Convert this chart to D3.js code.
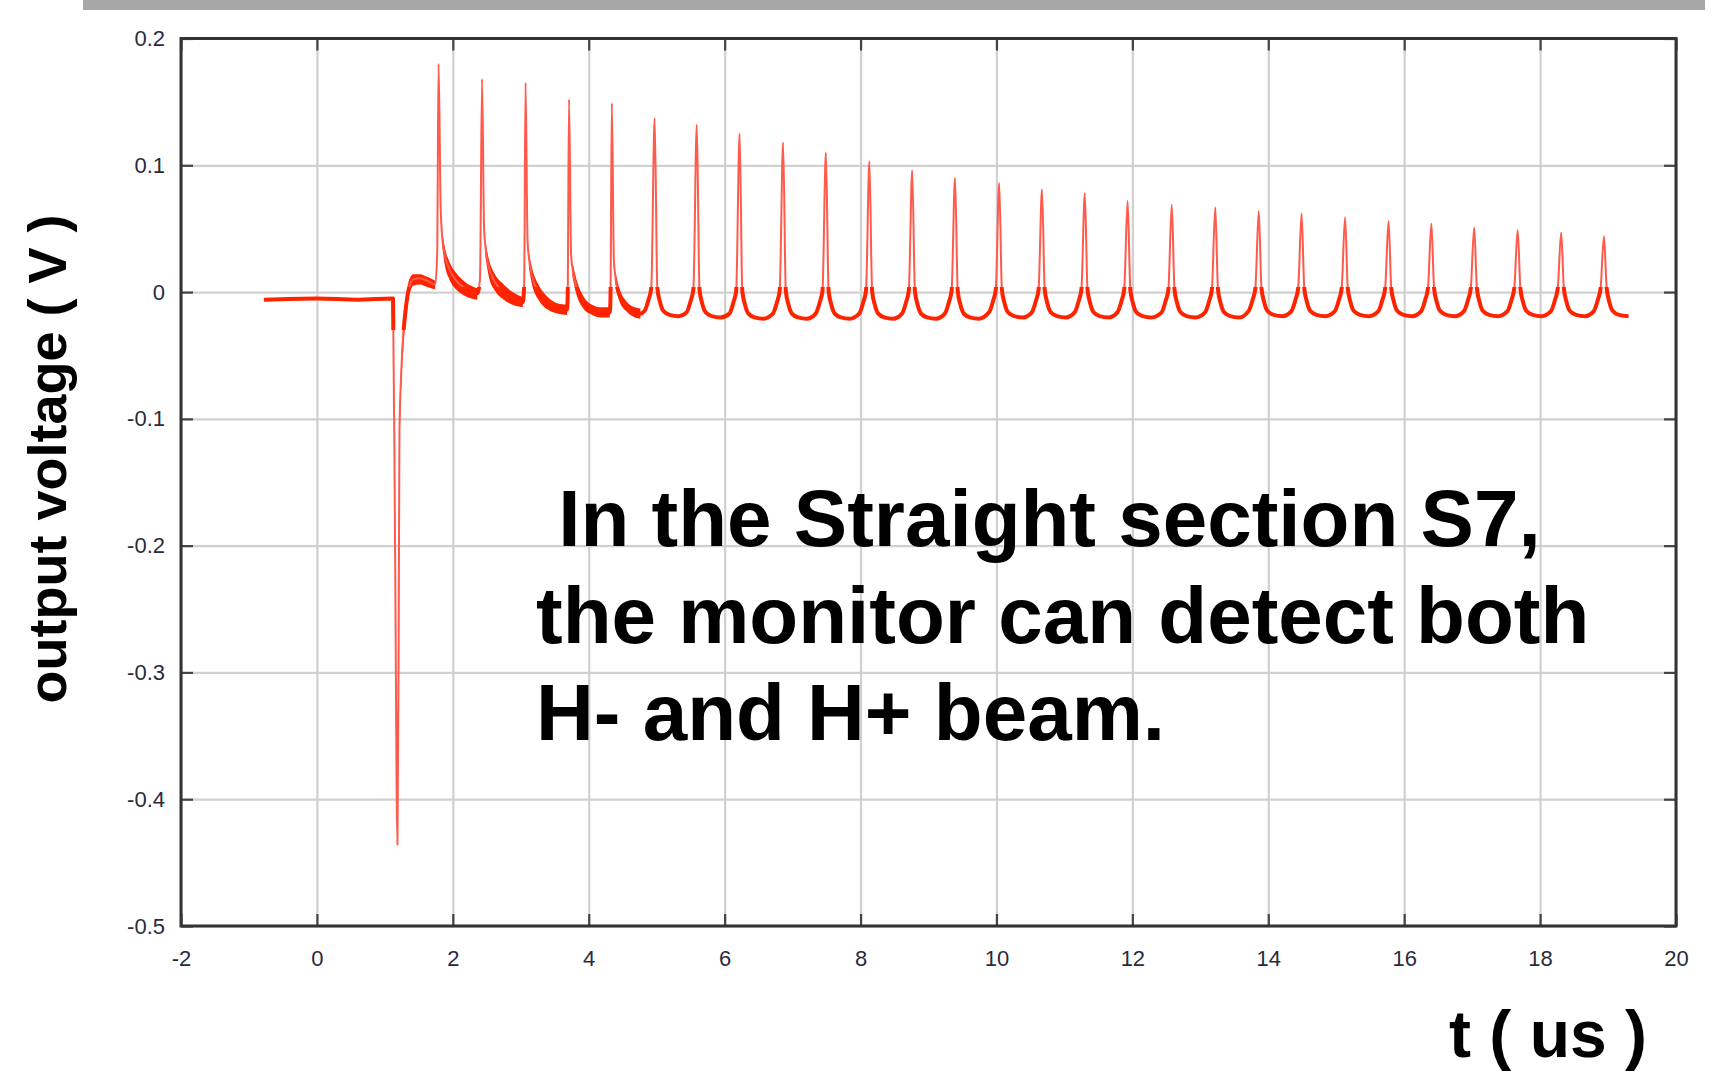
<!DOCTYPE html>
<html lang="en">
<head>
  <meta charset="UTF-8">
  <title>output voltage vs t</title>
  <style>
    body { margin: 0; background: #fff; }
    svg { display: block; }
  </style>
</head>
<body>
  <script src="https://d3js.org/d3.v7.min.js"></script>
  <script>
    'use strict';

    // axis ticks
    const xTicks = [-2, 0, 2, 4, 6, 8, 10, 12, 14, 16, 18, 20];
    const yTicks = [0.2, 0.1, 0, -0.1, -0.2, -0.3, -0.4, -0.5];

    // scope trace, [t (us), V]
    const trace = [
      [-0.78, -0.006], [0.0, -0.005], [0.6, -0.006], [1.12, -0.005],
      [1.15, -0.20], [1.185, -0.436], [1.205, -0.25], [1.215, -0.11], [1.24, -0.065], [1.27, -0.035],
      [1.31, -0.012], [1.36, 0.004], [1.42, 0.010], [1.52, 0.011], [1.62, 0.009], [1.74, 0.006],
      [1.77, 0.03], [1.79, 0.180], [1.82, 0.07], [1.84, 0.046], [1.88, 0.030], [1.95, 0.018], [2.05, 0.009], [2.18, 0.003], [2.36, -0.001],
      [2.40, 0.01], [2.43, 0.168], [2.46, 0.05], [2.48, 0.036], [2.53, 0.020], [2.62, 0.008], [2.75, 0.000], [2.88, -0.005], [3.03, -0.008],
      [3.05, 0.005], [3.07, 0.165], [3.10, 0.04], [3.12, 0.027], [3.17, 0.012], [3.26, 0.000], [3.40, -0.009], [3.55, -0.013], [3.68, -0.014],
      [3.69, -0.005], [3.71, 0.152], [3.74, 0.03], [3.76, 0.019], [3.82, 0.004], [3.92, -0.008], [4.05, -0.014], [4.18, -0.016], [4.31, -0.016],
      [4.32, -0.005], [4.34, 0.149], [4.37, 0.025], [4.39, 0.013], [4.45, -0.002], [4.55, -0.011], [4.68, -0.016], [4.76, -0.017],
      [4.82, -0.015], [4.88, -0.006], [4.92, 0.003], [4.97, 0.137], [5.01, 0.003], [5.05, -0.008], [5.10, -0.015], [5.19, -0.018], [5.32, -0.019],
      [5.44, -0.016], [5.50, -0.007], [5.54, 0.002], [5.59, 0.132], [5.63, 0.002], [5.67, -0.009], [5.72, -0.016], [5.81, -0.019], [5.94, -0.020],
      [6.07, -0.017], [6.13, -0.008], [6.17, 0.001], [6.22, 0.125], [6.26, 0.001], [6.30, -0.010], [6.35, -0.017], [6.44, -0.020], [6.57, -0.021],
      [6.71, -0.017], [6.77, -0.008], [6.81, 0.001], [6.86, 0.118], [6.90, 0.001], [6.94, -0.010], [6.99, -0.017], [7.08, -0.020], [7.21, -0.021],
      [7.34, -0.017], [7.40, -0.008], [7.44, 0.001], [7.49, 0.110], [7.53, 0.001], [7.57, -0.010], [7.62, -0.017], [7.71, -0.020], [7.84, -0.021],
      [7.98, -0.017], [8.04, -0.008], [8.08, 0.001], [8.13, 0.103], [8.17, 0.001], [8.21, -0.010], [8.26, -0.017], [8.35, -0.020], [8.48, -0.021],
      [8.61, -0.017], [8.67, -0.008], [8.71, 0.001], [8.76, 0.096], [8.80, 0.001], [8.84, -0.010], [8.89, -0.017], [8.98, -0.020], [9.11, -0.021],
      [9.24, -0.017], [9.30, -0.008], [9.34, 0.001], [9.39, 0.090], [9.43, 0.001], [9.47, -0.010], [9.52, -0.017], [9.61, -0.020], [9.74, -0.021],
      [9.89, -0.016], [9.95, -0.007], [9.99, 0.002], [10.04, 0.086], [10.08, 0.002], [10.12, -0.009], [10.17, -0.016], [10.26, -0.019], [10.39, -0.020],
      [10.52, -0.016], [10.58, -0.007], [10.62, 0.002], [10.67, 0.081], [10.71, 0.002], [10.75, -0.009], [10.80, -0.016], [10.89, -0.019], [11.02, -0.020],
      [11.15, -0.016], [11.21, -0.007], [11.25, 0.002], [11.30, 0.078], [11.34, 0.002], [11.38, -0.009], [11.43, -0.016], [11.52, -0.019], [11.65, -0.020],
      [11.78, -0.016], [11.84, -0.007], [11.88, 0.002], [11.93, 0.072], [11.97, 0.002], [12.01, -0.009], [12.06, -0.016], [12.15, -0.019], [12.28, -0.020],
      [12.43, -0.016], [12.49, -0.007], [12.53, 0.002], [12.58, 0.069], [12.62, 0.002], [12.66, -0.009], [12.71, -0.016], [12.80, -0.019], [12.93, -0.020],
      [13.07, -0.016], [13.13, -0.007], [13.17, 0.002], [13.22, 0.067], [13.26, 0.002], [13.30, -0.009], [13.35, -0.016], [13.44, -0.019], [13.57, -0.020],
      [13.71, -0.015], [13.77, -0.006], [13.81, 0.003], [13.86, 0.064], [13.90, 0.003], [13.94, -0.008], [13.99, -0.015], [14.08, -0.018], [14.21, -0.019],
      [14.34, -0.015], [14.40, -0.006], [14.44, 0.003], [14.49, 0.062], [14.53, 0.003], [14.57, -0.008], [14.62, -0.015], [14.71, -0.018], [14.84, -0.019],
      [14.98, -0.015], [15.04, -0.006], [15.08, 0.003], [15.13, 0.059], [15.17, 0.003], [15.21, -0.008], [15.26, -0.015], [15.35, -0.018], [15.48, -0.019],
      [15.62, -0.015], [15.68, -0.006], [15.72, 0.003], [15.77, 0.056], [15.81, 0.003], [15.85, -0.008], [15.90, -0.015], [15.99, -0.018], [16.12, -0.019],
      [16.25, -0.015], [16.31, -0.006], [16.35, 0.003], [16.40, 0.054], [16.44, 0.003], [16.48, -0.008], [16.53, -0.015], [16.62, -0.018], [16.75, -0.019],
      [16.88, -0.015], [16.94, -0.006], [16.98, 0.003], [17.03, 0.051], [17.07, 0.003], [17.11, -0.008], [17.16, -0.015], [17.25, -0.018], [17.38, -0.019],
      [17.52, -0.015], [17.58, -0.006], [17.62, 0.003], [17.67, 0.049], [17.71, 0.003], [17.75, -0.008], [17.80, -0.015], [17.89, -0.018], [18.02, -0.019],
      [18.16, -0.015], [18.22, -0.006], [18.26, 0.003], [18.31, 0.047], [18.35, 0.003], [18.39, -0.008], [18.44, -0.015], [18.53, -0.018], [18.66, -0.019],
      [18.79, -0.015], [18.85, -0.006], [18.89, 0.003], [18.94, 0.044], [18.98, 0.003], [19.02, -0.008], [19.07, -0.015], [19.16, -0.018], [19.30, -0.019]
    ];

    // noisy band in the early part, [t, low, high]; null splits the pieces
    const noiseBand = [
      [1.215, -0.12, -0.10], [1.24, -0.075, -0.055], [1.27, -0.045, -0.025], [1.31, -0.02, -0.004],
      [1.36, -0.002, 0.010], [1.42, 0.005, 0.014], [1.52, 0.006, 0.014], [1.62, 0.004, 0.012], [1.74, 0.002, 0.009],
      null,
      [1.84, 0.038, 0.050], [1.88, 0.022, 0.036], [1.95, 0.010, 0.024], [2.05, 0.002, 0.015], [2.18, -0.003, 0.008], [2.36, -0.006, 0.003],
      null,
      [2.48, 0.028, 0.040], [2.53, 0.012, 0.026], [2.62, 0.001, 0.014], [2.75, -0.006, 0.006], [2.88, -0.010, 0.000], [3.03, -0.012, -0.004],
      null,
      [3.12, 0.019, 0.031], [3.17, 0.005, 0.018], [3.26, -0.006, 0.006], [3.40, -0.014, -0.004], [3.55, -0.017, -0.009], [3.68, -0.018, -0.010],
      null,
      [3.76, 0.012, 0.024], [3.82, -0.002, 0.010], [3.92, -0.013, -0.003], [4.05, -0.018, -0.010], [4.18, -0.020, -0.012], [4.31, -0.020, -0.012],
      null,
      [4.39, 0.007, 0.017], [4.45, -0.007, 0.003], [4.55, -0.015, -0.007], [4.68, -0.020, -0.012], [4.76, -0.021, -0.013]
    ];

    const noteLines = [' In the Straight section S7,', 'the monitor can detect both', 'H- and H+ beam.'];

    const width = 1723;
    const height = 1073;
    const padL = 181, padR = 1676, padT = 38.5, padB = 926;

    const svg = d3.select('body').append('svg')
      .attr('width', width)
      .attr('height', height);

    // grey strip along the top edge
    svg.append('rect')
      .attr('x', 83).attr('y', 0)
      .attr('width', 1622).attr('height', 10)
      .attr('fill', '#a7a7a7');

    const x = d3.scaleLinear().domain([-2, 20]).range([padL, padR]);
    const y = d3.scaleLinear().domain([-0.5, 0.2]).range([padB, padT]);

    // grid
    svg.append('g')
      .attr('class', 'grid')
      .attr('transform', 'translate(0,' + padB + ')')
      .call(d3.axisBottom(x).tickValues(xTicks).tickSize(-(padB - padT)).tickFormat(''));
    svg.append('g')
      .attr('class', 'grid')
      .attr('transform', 'translate(' + padL + ',0)')
      .call(d3.axisLeft(y).tickValues(yTicks).tickSize(-(padR - padL)).tickFormat(''));
    svg.selectAll('.grid .domain').remove();
    svg.selectAll('.grid line')
      .attr('stroke', '#d0d0d0')
      .attr('stroke-width', 2.2);

    // trace
    const clipId = 'flatpart';
    svg.append('clipPath').attr('id', clipId)
      .append('rect')
      .attr('x', padL).attr('width', padR - padL)
      .attr('y', y(0.004)).attr('height', y(-0.03) - y(0.004));

    const band = d3.area()
      .defined(d => d !== null)
      .x(d => x(d[0]))
      .y0(d => y(d[1]))
      .y1(d => y(d[2]))
      .curve(d3.curveMonotoneX);

    const line = d3.line()
      .x(d => x(d[0]))
      .y(d => y(d[1]))
      .curve(d3.curveMonotoneX);

    svg.append('path')
      .datum(noiseBand)
      .attr('d', band)
      .attr('fill', '#ff2400');

    svg.append('path')
      .datum(trace)
      .attr('d', line)
      .attr('fill', 'none')
      .attr('stroke', '#ff5a4c')
      .attr('stroke-width', 2)
      .attr('stroke-linejoin', 'round');

    svg.append('path')
      .datum(trace)
      .attr('d', line)
      .attr('clip-path', 'url(#' + clipId + ')')
      .attr('fill', 'none')
      .attr('stroke', '#ff2400')
      .attr('stroke-width', 4)
      .attr('stroke-linejoin', 'round');

    // frame ticks, pointing inwards on all four sides
    const tickLen = 12;
    const axes = [
      { ax: d3.axisBottom(x).tickValues(xTicks), at: 'translate(0,' + padB + ')', cls: 'xlab' },
      { ax: d3.axisTop(x).tickValues(xTicks), at: 'translate(0,' + padT + ')', cls: '' },
      { ax: d3.axisLeft(y).tickValues(yTicks), at: 'translate(' + padL + ',0)', cls: 'ylab' },
      { ax: d3.axisRight(y).tickValues(yTicks), at: 'translate(' + padR + ',0)', cls: '' }
    ];
    axes.forEach(a => {
      a.ax.tickSize(-tickLen).tickFormat(a.cls ? d => String(d) : '');
      svg.append('g')
        .attr('class', 'axis ' + a.cls)
        .attr('transform', a.at)
        .call(a.ax);
    });
    svg.selectAll('.axis .domain').remove();
    svg.selectAll('.axis line')
      .attr('stroke', '#444')
      .attr('stroke-width', 2.2);

    svg.selectAll('.axis text')
      .attr('font-family', '"Liberation Sans", Arial, sans-serif')
      .attr('font-size', 22)
      .attr('fill', '#2b2b3a');
    svg.selectAll('.xlab text').attr('y', 24.5);
    svg.selectAll('.ylab text').attr('x', -(padL - 165));

    // plot frame
    svg.append('rect')
      .attr('x', padL).attr('y', padT)
      .attr('width', padR - padL).attr('height', padB - padT)
      .attr('fill', 'none')
      .attr('stroke', '#333')
      .attr('stroke-width', 3);

    // axis titles
    svg.append('text')
      .attr('transform', 'translate(66,' + 459 + ') rotate(-90)')
      .attr('text-anchor', 'middle')
      .attr('font-family', '"Liberation Sans", Arial, sans-serif')
      .attr('font-weight', 'bold')
      .attr('font-size', 54)
      .attr('fill', '#000')
      .text('output voltage ( V )');

    svg.append('text')
      .attr('x', 1449).attr('y', 1057)
      .attr('font-family', '"Liberation Sans", Arial, sans-serif')
      .attr('font-weight', 'bold')
      .attr('font-size', 66)
      .attr('fill', '#000')
      .text('t ( us )');

    // annotation
    svg.append('text')
      .attr('font-family', '"Liberation Sans", Arial, sans-serif')
      .attr('font-weight', 'bold')
      .attr('font-size', 80)
      .attr('fill', '#000')
      .style('white-space', 'pre')
      .selectAll('tspan')
      .data(noteLines)
      .join('tspan')
      .attr('x', 536)
      .attr('y', (d, i) => 546 + i * 97)
      .text(d => d);
  </script>
</body>
</html>
